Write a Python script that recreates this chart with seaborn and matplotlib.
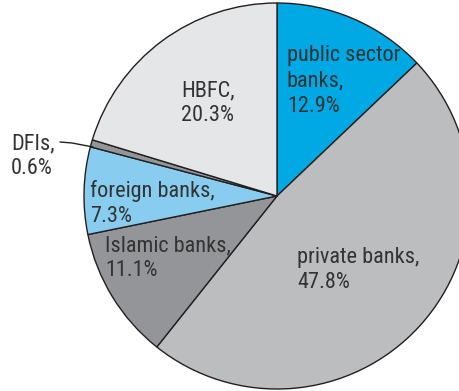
import matplotlib
matplotlib.use("Agg")
import matplotlib.pyplot as plt
import seaborn as sns

labels = ["public sector\nbanks,", "private banks,", "Islamic banks,", "foreign banks,", "DFIs,", "HBFC,"]
shares = [12.9, 47.8, 11.1, 7.3, 0.6, 20.3]
colors = ["#00A9E4", "#BCBDBF", "#939598", "#88CDF0", "#939598", "#E5E6E7"]

sns.set_theme(style="white")
plt.rcParams['font.family'] = ['DejaVu Sans Condensed', 'Roboto Condensed', 'Roboto', 'DejaVu Sans']
plt.rcParams['font.stretch'] = 'condensed'

W, H = 459, 391
cx, cy, r = 277, 196, 193

fig = plt.figure(figsize=(W / 100, H / 100), dpi=100)
ax = fig.add_axes([0, 0, 1, 1])
ax.pie(shares, colors=colors, startangle=90, counterclock=False, radius=1,
       wedgeprops=dict(edgecolor="#231F20", linewidth=1.0))
ax.set_xlim(-cx / r, (W - cx) / r)
ax.set_ylim(-(H - cy) / r, cy / r)
ax.set_aspect("equal")
ax.axis("off")

def px(x, y):
    return x / W, 1 - y / H

# label positions in pixels (left, first-line centre)
pos = [(287, 55), (297, 257), (105, 245), (90, 190), (11, 143), (181, 90)]
for lab, val, (x, y) in zip(labels, shares, pos):
    txt = lab + "\n" + f"{val}%"
    fx, fy = px(x, y - 10)
    ax.text(fx, fy, txt, transform=ax.transAxes, ha="left", va="top",
            fontsize=16, color="#333333", linespacing=1.28)

# leader line for DFIs
xs, ys = zip(*[px(60, 142), px(72, 143), px(93, 147)])
ax.plot(xs, ys, transform=ax.transAxes, color="#231F20", lw=1)

fig.savefig("out.png", dpi=100)
